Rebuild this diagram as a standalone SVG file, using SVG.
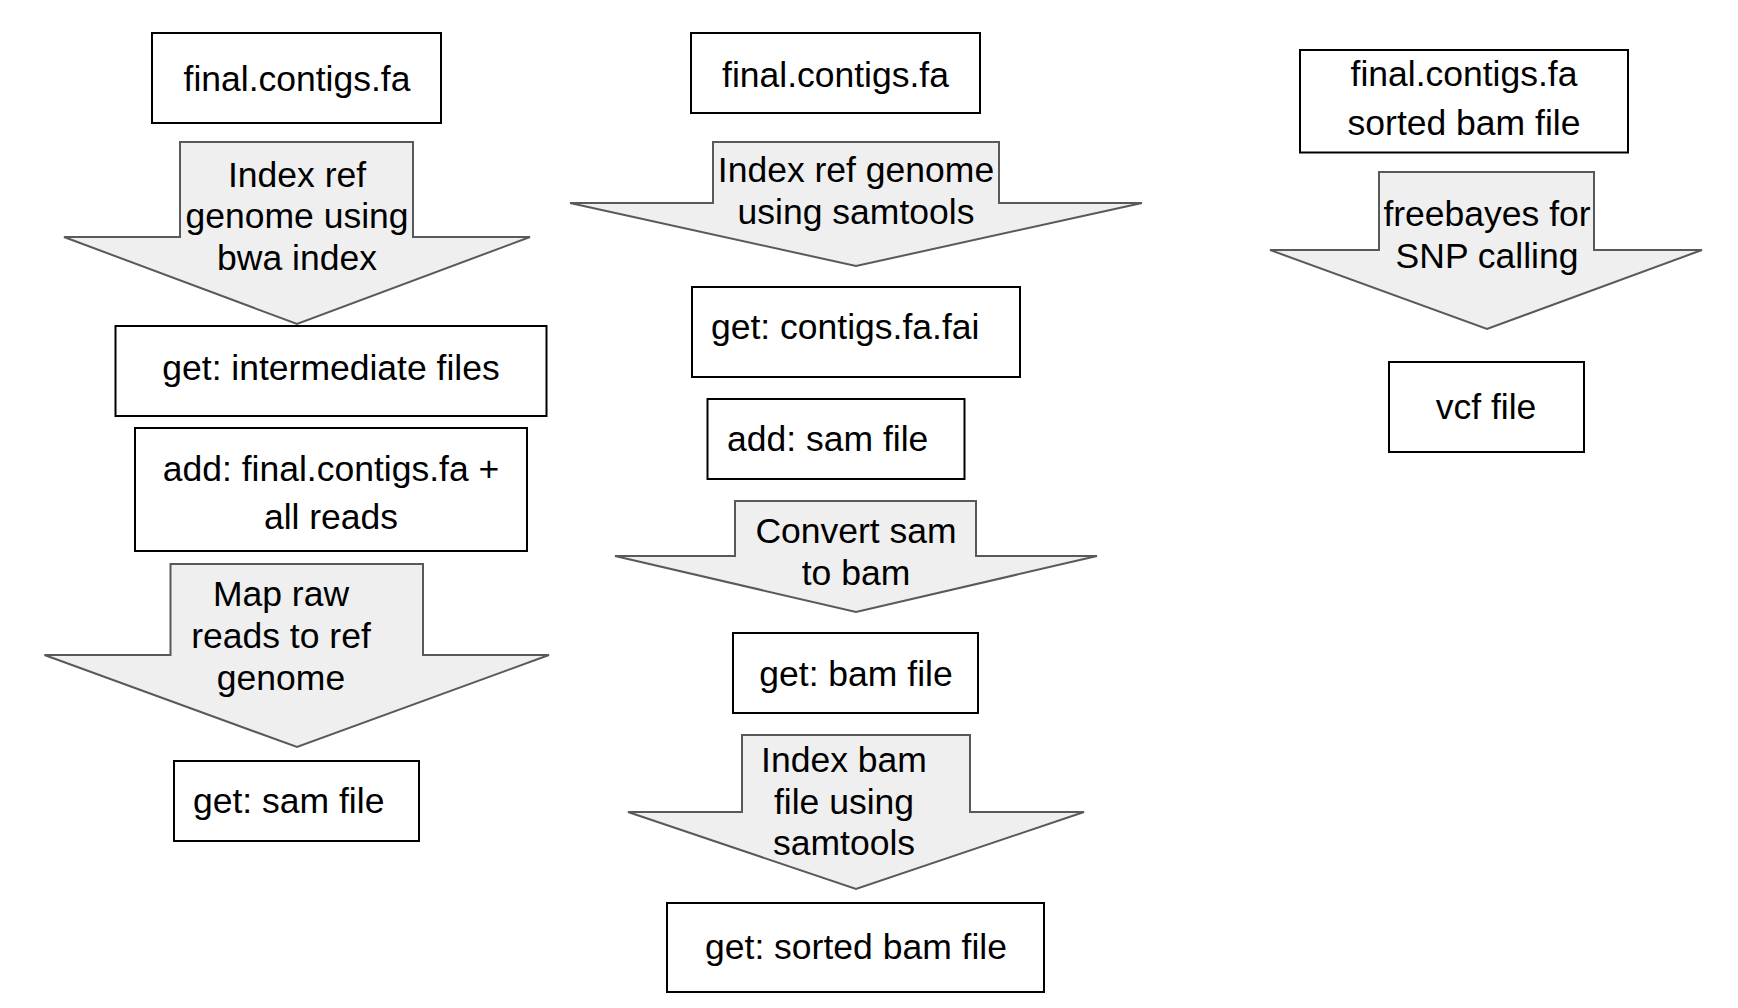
<svg xmlns="http://www.w3.org/2000/svg" width="1738" height="1008" viewBox="0 0 1738 1008">
<style>
.box{fill:#ffffff;stroke:#000000;stroke-width:2}
.step{fill:#efefef;stroke:#595959;stroke-width:2;stroke-linejoin:miter}
text{font-family:"Liberation Sans",Arial,sans-serif;font-size:35.5px;fill:#000000}
.c{text-anchor:middle}
</style>
<rect width="1738" height="1008" fill="#ffffff"/>
<g id="connectors">
  <g id="step-bwa-index">
    <path class="step" d="M180,142 L413,142 L413,237 L530,237 L297,324 L64,237 L180,237 Z"/>
    <text class="c" x="297" y="186.5">Index ref</text>
    <text class="c" x="297" y="228">genome using</text>
    <text class="c" x="297" y="270">bwa index</text>
  </g>
  <g id="step-map-reads">
    <path class="step" d="M170.5,564 L423,564 L423,655 L549,655 L297,747 L44.5,655 L170.5,655 Z"/>
    <text class="c" x="281" y="606">Map raw</text>
    <text class="c" x="281" y="648">reads to ref</text>
    <text class="c" x="281" y="690">genome</text>
  </g>
  <g id="step-samtools-faidx">
    <path class="step" d="M713,142 L999,142 L999,203 L1142,203 L856,266 L570,203 L713,203 Z"/>
    <text class="c" x="856" y="182">Index ref genome</text>
    <text class="c" x="856" y="224">using samtools</text>
  </g>
  <g id="step-convert">
    <path class="step" d="M735,501 L976,501 L976,556 L1097,556 L856,612 L615,556 L735,556 Z"/>
    <text class="c" x="856" y="542.5">Convert sam</text>
    <text class="c" x="856" y="585">to bam</text>
  </g>
  <g id="step-index-bam">
    <path class="step" d="M742,735 L970,735 L970,812 L1084,812 L856,889 L628,812 L742,812 Z"/>
    <text class="c" x="844" y="772">Index bam</text>
    <text class="c" x="844" y="813.5">file using</text>
    <text class="c" x="844" y="855">samtools</text>
  </g>
  <g id="step-freebayes">
    <path class="step" d="M1379,172 L1594,172 L1594,250 L1702,250 L1487,329 L1270,250 L1379,250 Z"/>
    <text class="c" x="1487" y="225.5">freebayes for</text>
    <text class="c" x="1487" y="268">SNP calling</text>
  </g>
</g>
<g id="node-contigs-1">
  <rect class="box" x="152" y="33" width="289" height="90"/>
  <text class="c" x="297" y="91">final.contigs.fa</text>
</g>
<g id="node-intermediate">
  <rect class="box" x="115.5" y="326" width="431" height="90"/>
  <text class="c" x="331" y="379.5">get: intermediate files</text>
</g>
<g id="node-add-reads">
  <rect class="box" x="135" y="428" width="392" height="123"/>
  <text class="c" x="331" y="481">add: final.contigs.fa +</text>
  <text class="c" x="331" y="529">all reads</text>
</g>
<g id="node-sam-1">
  <rect class="box" x="174" y="761" width="245" height="80"/>
  <text x="193" y="813">get: sam file</text>
</g>
<g id="node-contigs-2">
  <rect class="box" x="691" y="33" width="289" height="80"/>
  <text class="c" x="835.5" y="87">final.contigs.fa</text>
</g>
<g id="node-fai">
  <rect class="box" x="692" y="287" width="328" height="90"/>
  <text x="711" y="339">get: contigs.fa.fai</text>
</g>
<g id="node-add-sam">
  <rect class="box" x="707.5" y="399" width="257" height="80"/>
  <text x="727" y="451">add: sam file</text>
</g>
<g id="node-bam">
  <rect class="box" x="733" y="633" width="245" height="80"/>
  <text class="c" x="856" y="686">get: bam file</text>
</g>
<g id="node-sorted-bam">
  <rect class="box" x="667" y="903" width="377" height="89"/>
  <text class="c" x="856" y="959">get: sorted bam file</text>
</g>
<g id="node-inputs-3">
  <rect class="box" x="1300" y="50" width="328" height="102.5"/>
  <text class="c" x="1464" y="86">final.contigs.fa</text>
  <text class="c" x="1464" y="135">sorted bam file</text>
</g>
<g id="node-vcf">
  <rect class="box" x="1389" y="362" width="195" height="90"/>
  <text class="c" x="1486" y="419">vcf file</text>
</g>
</svg>
